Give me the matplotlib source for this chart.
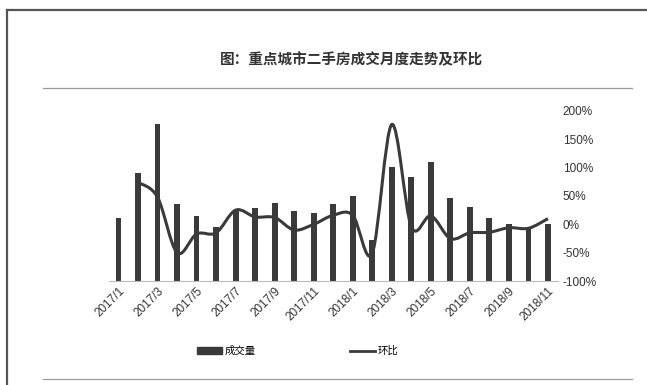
import numpy as np
import matplotlib
matplotlib.use("Agg")
import matplotlib.pyplot as plt
from matplotlib.path import Path
from matplotlib.patches import PathPatch, Patch
from matplotlib.lines import Line2D

plt.rcParams['font.family'] = ['Liberation Sans', 'Noto Sans CJK SC', 'DejaVu Sans']

# 月份
months = [f"2017/{m}" for m in range(1, 13)] + [f"2018/{m}" for m in range(1, 12)]
# 成交量（指数）
volume = [3.7, 6.35, 9.2, 4.5, 3.8, 3.2, 4.2, 4.3, 4.6, 4.1, 4.0, 4.5,
          5.0, 2.4, 6.7, 6.1, 7.0, 4.9, 4.35, 3.7, 3.35, 3.2, 3.35]
# 环比 (%)，首月无数据
mom = [np.nan, 74, 48, -50, -17, -15, 25, 13, 12, -10, 0, 16,
       16, -51, 176, -4, 15, -25, -15, -14, -6, -7, 10]

dark = '#3a3a3a'

fig = plt.figure(figsize=(6.47, 3.85), dpi=100)
ax = fig.add_axes([0.168, 0.270, 0.694, 0.442])
ax2 = ax.twinx()

x = np.arange(len(months))
ax.bar(x, volume, width=0.3, color=dark, zorder=2)
ax.set_xlim(-0.5, len(months) - 0.5)
ax.set_ylim(0, 10)
ax.set_yticks([])
ax.set_xticks(x[::2])
ax.set_xticklabels(months[::2], rotation=45, ha='right', rotation_mode='anchor',
                   fontsize=8.5, color='#333333')
ax.tick_params(axis='x', length=0, pad=3)
for s in ['top', 'left', 'right']:
    ax.spines[s].set_visible(False)
ax.spines['bottom'].set_color('#bbbbbb')
ax.spines['bottom'].set_linewidth(0.8)

# 平滑环比曲线（Catmull-Rom -> 三次贝塞尔）
pts = np.array([(xi, yi) for xi, yi in zip(x, mom) if not np.isnan(yi)], dtype=float)
verts = [pts[0]]
codes = [Path.MOVETO]
n = len(pts)
for i in range(n - 1):
    p0 = pts[i - 1] if i > 0 else pts[i]
    p1 = pts[i]
    p2 = pts[i + 1]
    p3 = pts[i + 2] if i + 2 < n else pts[i + 1]
    c1 = p1 + (p2 - p0) / 6.0
    c2 = p2 - (p3 - p1) / 6.0
    verts += [c1, c2, p2]
    codes += [Path.CURVE4] * 3
ax2.add_patch(PathPatch(Path(verts, codes), facecolor='none', edgecolor=dark,
                        lw=2.2, zorder=3))
ax2.set_ylim(-100, 200)
ax2.set_yticks(range(-100, 201, 50))
ax2.set_yticklabels([f"{v}%" for v in range(-100, 201, 50)], fontsize=8.5, color='#333333')
ax2.tick_params(axis='y', length=0, pad=3.5)
for s in ax2.spines.values():
    s.set_visible(False)

handles = [Patch(facecolor=dark, edgecolor=dark),
           Line2D([], [], color=dark, lw=2)]
fig.legend(handles, ['成交量', '环比'], loc='center', bbox_to_anchor=(0.46, 0.088),
           ncol=2, frameon=False, fontsize=7.5, columnspacing=9, handlelength=2.4,
           handleheight=0.6, handletextpad=0.3)

fig.text(0.544, 0.844, '图：重点城市二手房成交月度走势及环比', ha='center', va='center',
         fontsize=10.5, fontweight='bold', color='#333333')

# 外框和分隔线
W, H = 647, 385
fig.add_artist(Line2D([7 / W, 7 / W], [0, 1 - 10 / H], color='#555555', lw=1.6))
fig.add_artist(Line2D([7 / W, 1], [1 - 10 / H, 1 - 10 / H], color='#555555', lw=1.6))
fig.add_artist(Line2D([43 / W, 632 / W], [1 - 88 / H, 1 - 88 / H], color='#9a9aa0', lw=0.9))
fig.add_artist(Line2D([43 / W, 632 / W], [1 - 379 / H, 1 - 379 / H], color='#9a9aa0', lw=0.9))

fig.savefig('out.png', dpi=100)
